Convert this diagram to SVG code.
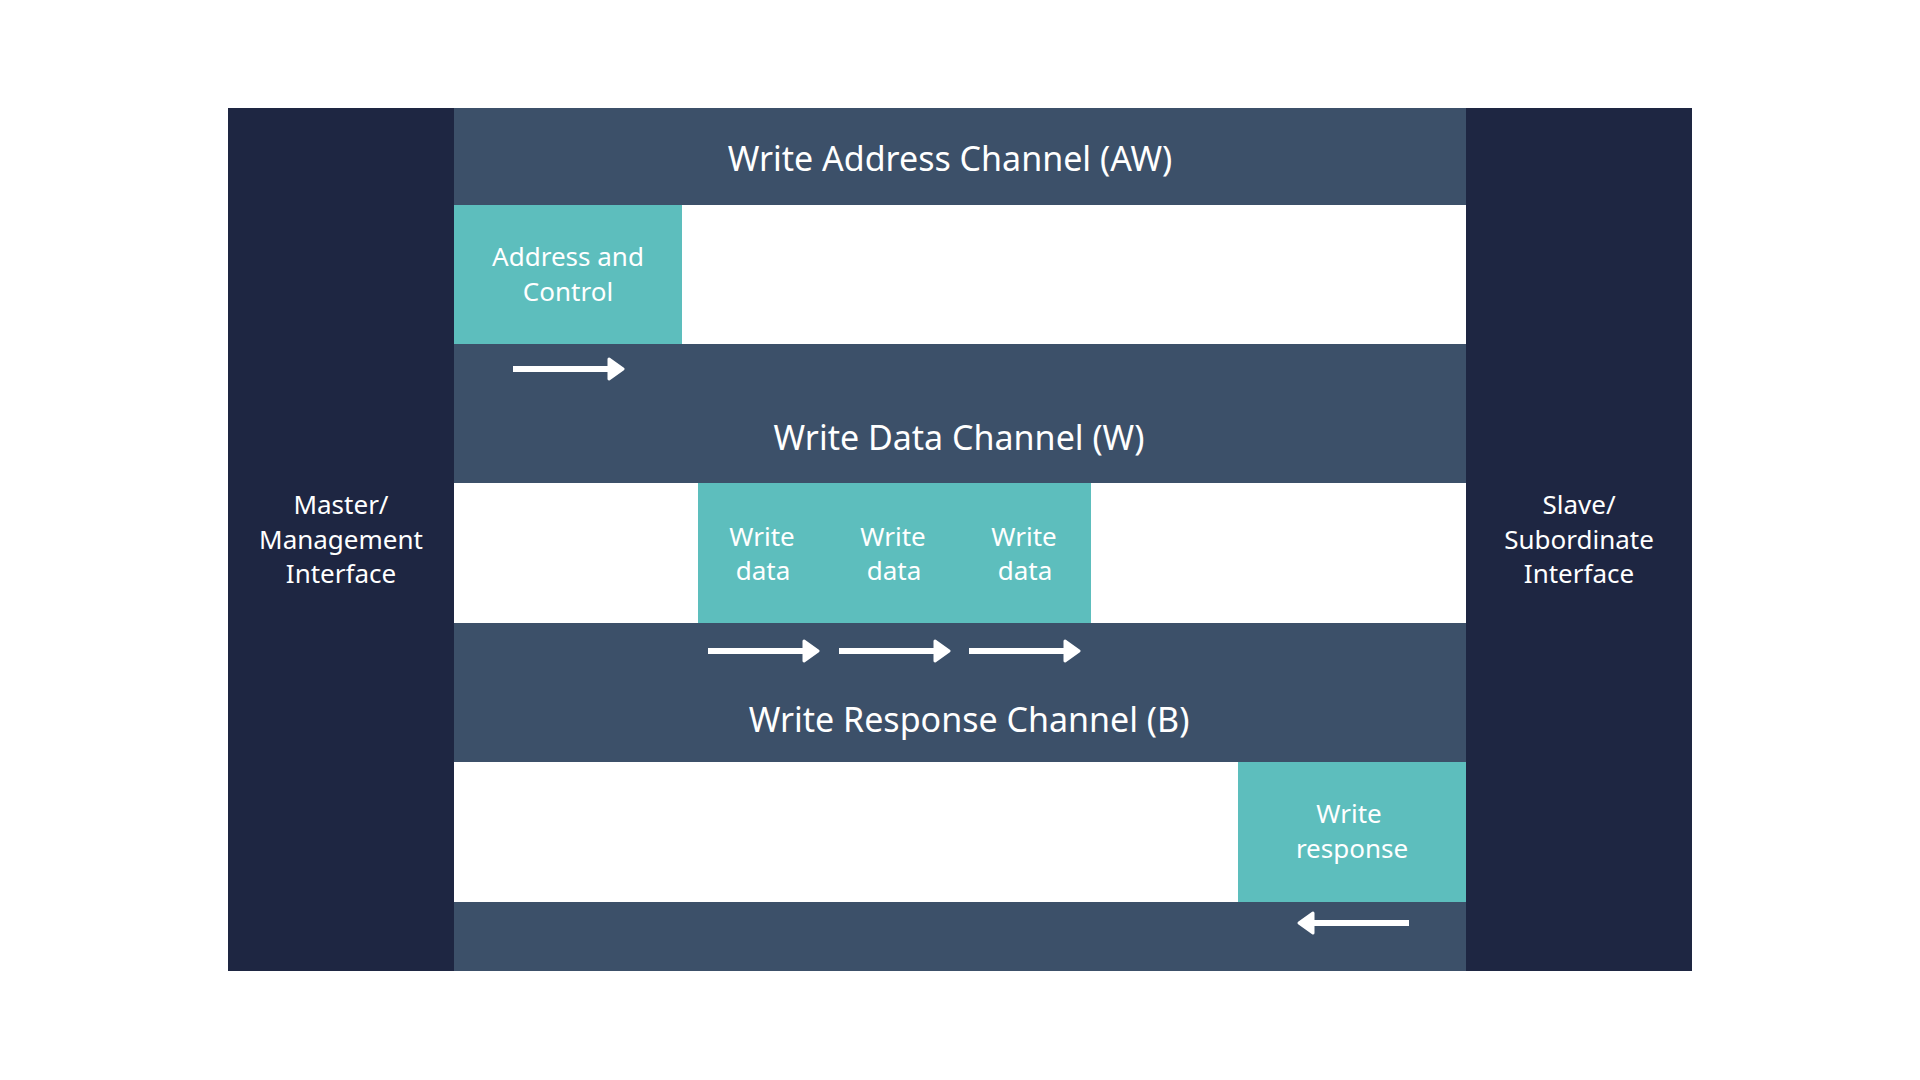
<svg xmlns="http://www.w3.org/2000/svg" width="1920" height="1080" viewBox="0 0 1920 1080">
  <style>
    .navy { fill: #1E2642; }
    .slate { fill: #3C5069; }
    .teal { fill: #5DBEBD; }
    .white { fill: #FFFFFF; }
    .hdr { font-family: "Noto Sans", "Open Sans", sans-serif; font-size: 34px; fill: #FFFFFF; text-anchor: middle; }
    .lbl { font-family: "Noto Sans", "Open Sans", sans-serif; font-size: 26px; fill: #FFFFFF; text-anchor: middle; }
    .arrow { stroke: #FFFFFF; stroke-width: 6; fill: none; marker-end: url(#head); }
  </style>
  <defs>
    <marker id="head" viewBox="0 0 18 24" markerUnits="userSpaceOnUse" markerWidth="18" markerHeight="24" refX="3" refY="12" orient="auto">
      <path d="M2,2 L16,12 L2,22 Z" fill="#FFFFFF" stroke="#FFFFFF" stroke-width="3" stroke-linejoin="round"/>
    </marker>
  </defs>
  <rect width="1920" height="1080" fill="#FFFFFF"/>

  <g id="master">
    <rect class="navy" x="228" y="108" width="226" height="863"/>
    <text class="lbl" x="341" y="514">Master/</text>
    <text class="lbl" x="341" y="549">Management</text>
    <text class="lbl" x="341" y="583">Interface</text>
  </g>
  <g id="slave">
    <rect class="navy" x="1466" y="108" width="226" height="863"/>
    <text class="lbl" x="1579" y="514">Slave/</text>
    <text class="lbl" x="1579" y="549">Subordinate</text>
    <text class="lbl" x="1579" y="583">Interface</text>
  </g>

  <g id="channels">
    <rect class="slate" x="454" y="108" width="1012" height="863"/>
  </g>

  <g id="aw-channel">
    <text class="hdr" x="950" y="171">Write Address Channel (AW)</text>
    <rect class="white" x="454" y="205" width="1012" height="139"/>
  </g>
  <g id="address-control">
    <rect class="teal" x="454" y="205" width="228" height="139"/>
    <text class="lbl" x="568" y="266">Address and</text>
    <text class="lbl" x="568" y="301">Control</text>
  </g>

  <g id="w-channel">
    <text class="hdr" x="959" y="450">Write Data Channel (W)</text>
    <rect class="white" x="454" y="483" width="1012" height="140"/>
  </g>
  <g id="write-data">
    <rect class="teal" x="698" y="483" width="393" height="140"/>
    <text class="lbl" x="762" y="546">Write</text>
    <text class="lbl" x="763" y="580">data</text>
    <text class="lbl" x="893" y="546">Write</text>
    <text class="lbl" x="894" y="580">data</text>
    <text class="lbl" x="1024" y="546">Write</text>
    <text class="lbl" x="1025" y="580">data</text>
  </g>

  <g id="b-channel">
    <text class="hdr" x="969" y="732">Write Response Channel (B)</text>
    <rect class="white" x="454" y="762" width="1012" height="140"/>
  </g>
  <g id="write-response">
    <rect class="teal" x="1238" y="762" width="228" height="140"/>
    <text class="lbl" x="1349" y="823">Write</text>
    <text class="lbl" x="1352" y="858">response</text>
  </g>

  <g id="connectors">
    <line class="arrow" x1="513" y1="369" x2="610" y2="369"/>
    <line class="arrow" x1="708" y1="651" x2="805" y2="651"/>
    <line class="arrow" x1="839" y1="651" x2="936" y2="651"/>
    <line class="arrow" x1="969" y1="651" x2="1066" y2="651"/>
    <line class="arrow" x1="1409" y1="923" x2="1312" y2="923"/>
  </g>
</svg>
